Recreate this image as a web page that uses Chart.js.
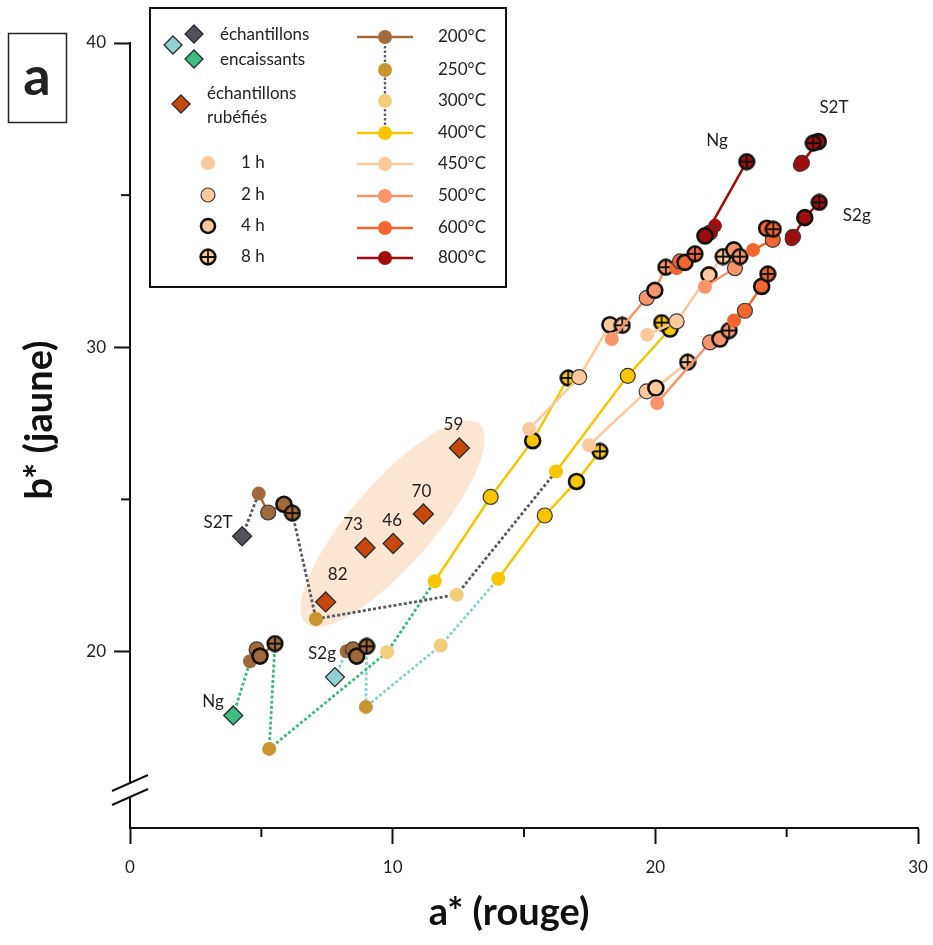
<!DOCTYPE html>
<html lang="fr">
<head>
<meta charset="utf-8">
<script src="https://cdn.jsdelivr.net/npm/chart.js@4.4.1/dist/chart.umd.min.js"></script>
<style>
  html, body { margin: 0; padding: 0; background: #fff; }
  #wrap { position: relative; width: 933px; height: 945px; }
</style>
</head>
<body>
<div id="wrap"><canvas id="chart"></canvas></div>
<script>
// ---- données : paires [a*, b*] ----
const durations = ['1 h', '2 h', '4 h', '8 h'];
const temps = ['200°C', '250°C', '300°C', '400°C', '450°C', '500°C', '600°C', '800°C'];

const sampleNames = ['S2T', 'Ng', 'S2g'];
const sampleA = [4.27, 3.93, 7.80];
const sampleB = [23.79, 17.90, 19.16];

const rubNames = ['82', '73', '46', '70', '59'];
const rubA = [7.45, 8.95, 10.02, 11.17, 12.54];
const rubB = [21.63, 23.41, 23.55, 24.52, 26.69];

// S2T
const s2t200 = [[4.90, 25.19], [5.26, 24.57], [5.86, 24.84], [6.18, 24.55]];
const s2t250 = [[7.08, 21.07]];
const s2t300 = [[12.44, 21.87]];
const s2t400 = [[16.22, 25.92], [18.95, 29.06], [20.56, 30.60], [20.24, 30.81]];
const s2t450 = [[19.69, 30.41], [20.81, 30.85], [22.04, 32.38], [22.58, 32.98]];
const s2t500 = [[21.89, 31.99], [23.03, 32.60], [22.99, 33.20], [23.22, 32.98]];
const s2t600 = [[23.72, 33.20], [24.47, 33.53], [24.24, 33.91], [24.49, 33.88]];
const s2t800 = [[25.50, 35.99], [25.58, 36.06], [26.20, 36.76], [26.01, 36.71]];

// Ng
const ng200 = [[4.57, 19.68], [4.82, 20.07], [4.95, 19.85], [5.52, 20.26]];
const ng250 = [[5.30, 16.80]];
const ng300 = [[9.79, 19.98]];
const ng400 = [[11.60, 22.31], [13.73, 25.08], [15.33, 26.93], [16.68, 28.99]];
const ng450 = [[15.20, 27.31], [17.10, 29.02], [18.27, 30.74], [18.74, 30.72]];
const ng500 = [[18.34, 30.27], [19.67, 31.62], [19.98, 31.87], [20.40, 32.63]];
const ng600 = [[20.81, 32.60], [20.94, 32.82], [21.13, 32.79], [21.51, 33.07]];
const ng800 = [[22.27, 33.99], [22.08, 33.77], [21.89, 33.66], [23.48, 36.10]];

// S2g
const s2g200 = [[8.25, 20.01], [8.49, 20.07], [8.63, 19.85], [9.01, 20.17]];
const s2g250 = [[8.98, 18.18]];
const s2g300 = [[11.83, 20.20]];
const s2g400 = [[14.02, 22.39], [15.79, 24.47], [17.00, 25.59], [17.89, 26.58]];
const s2g450 = [[17.48, 26.78], [19.67, 28.55], [20.02, 28.66], [21.23, 29.51]];
const s2g500 = [[20.07, 28.17], [22.08, 30.16], [22.46, 30.27], [22.81, 30.55]];
const s2g600 = [[23.00, 30.88], [23.41, 31.20], [24.05, 32.00], [24.28, 32.41]];
const s2g800 = [[25.19, 33.55], [25.24, 33.63], [25.69, 34.26], [26.24, 34.76]];

// graduations
const xMajorTicks = [0, 10, 20, 30];
const xMinorTicks = [5, 15, 25];
const yMajorTicks = [20, 30, 40];
const yMinorTicks = [25, 35];

// étiquettes posées sur le graphique (coordonnées a*, b*)
const annoText = ['S2T', 'Ng', 'S2g', 'Ng', 'S2T', 'S2g'];
const annoA = [3.35, 3.16, 7.31, 22.35, 26.80, 27.67];
const annoB = [24.24, 18.36, 19.93, 36.78, 37.87, 34.32];

// ---- styles ----
const tempColors = ['#a16a3b', '#c9952f', '#f2cd7c', '#f7c600', '#fcc99d', '#f7946a', '#f4662f', '#a10d0d'];
const sampleColors = ['#50535d', '#3dbb80', '#93d0d2'];
const connColors = ['#555a66', '#3dba7c', '#8ed0d0'];
const rubColor = '#c8470b';
const rubOffsets = [[12, -27], [-12, -23], [-1, -23], [-2, -22], [-6, -23]];
const FONT = 'Lato, "Open Sans", sans-serif';

const sampleSeries = [
  [s2t200, s2t250, s2t300, s2t400, s2t450, s2t500, s2t600, s2t800],
  [ng200, ng250, ng300, ng400, ng450, ng500, ng600, ng800],
  [s2g200, s2g250, s2g300, s2g400, s2g450, s2g500, s2g600, s2g800]
];

const plusCache = {};
function plusImage(color, size) {
  const key = color + size;
  if (plusCache[key]) return plusCache[key];
  const c = document.createElement('canvas');
  c.width = size; c.height = size;
  const g = c.getContext('2d');
  const m = size / 2, r = size / 2 - 1.6;
  g.beginPath(); g.arc(m, m, r, 0, Math.PI * 2);
  g.fillStyle = color; g.fill();
  g.lineWidth = 2.5; g.strokeStyle = '#111'; g.stroke();
  g.beginPath();
  g.moveTo(m, m - r); g.lineTo(m, m + r);
  g.moveTo(m - r, m); g.lineTo(m + r, m);
  g.lineWidth = 1.8; g.stroke();
  plusCache[key] = c;
  return c;
}

const durRadius = [7, 7.5, 7.5, 9];
const durBorderW = [0, 1.2, 2.6, 0];
const durBorderC = ['rgba(0,0,0,0)', '#3a3a3a', '#111', 'rgba(0,0,0,0)'];

const toXY = pts => pts.map(p => ({ x: p[0], y: p[1] }));

const datasets = [];

// repères des échantillons et rubéfiés (au-dessus)
datasets.push({
  data: sampleA.map((a, i) => ({ x: a, y: sampleB[i] })),
  pointStyle: 'rectRot', pointRadius: 9.5,
  pointBackgroundColor: sampleColors, pointBorderColor: '#2a2a2a', pointBorderWidth: 1.3,
  showLine: false, order: 1
});
datasets.push({
  data: rubA.map((a, i) => ({ x: a, y: rubB[i] })),
  pointStyle: 'rectRot', pointRadius: 10,
  pointBackgroundColor: rubColor, pointBorderColor: '#2a2a2a', pointBorderWidth: 1.3,
  showLine: false, order: 1
});

sampleSeries.forEach((series, s) => {
  // températures
  series.forEach((pts, k) => {
    const color = tempColors[k];
    const many = pts.length > 1;
    datasets.push({
      data: toXY(pts),
      showLine: many,
      borderColor: color, borderWidth: 2.5,
      pointStyle: pts.map((p, i) => (many && i === 3) ? plusImage(color, 18) : 'circle'),
      pointRadius: pts.map((p, i) => many ? durRadius[i] : 7),
      pointBackgroundColor: color,
      pointBorderColor: pts.map((p, i) => many ? durBorderC[i] : durBorderC[0]),
      pointBorderWidth: pts.map((p, i) => many ? durBorderW[i] : 0),
      order: 5 + (8 - k) * 0.1
    });
  });
  // liaisons pointillées
  const t = series;
  const conn = [
    [[sampleA[s], sampleB[s]], t[0][0]],
    [t[0][3], t[1][0], t[2][0], t[3][0]]
  ];
  conn.forEach(c => {
    datasets.push({
      data: toXY(c), showLine: true,
      borderColor: connColors[s], borderWidth: 2.8, borderDash: [3, 2.2],
      pointRadius: 0, order: 10
    });
  });
});

// ---- plugins ----
const decor = {
  id: 'decor',
  beforeDatasetsDraw(chart) {
    const { ctx, scales: { x, y } } = chart;
    // ellipse des échantillons rubéfiés
    ctx.save();
    ctx.beginPath();
    ctx.ellipse(x.getPixelForValue(10.0), y.getPixelForValue(24.2), 132, 41, -49 * Math.PI / 180, 0, Math.PI * 2);
    ctx.fillStyle = '#fbe5d3';
    ctx.fill();
    ctx.restore();
  },
  afterDatasetsDraw(chart) {
    const { ctx, scales: { x, y } } = chart;
    ctx.save();
    ctx.fillStyle = '#222';
    ctx.font = '17px ' + FONT;
    ctx.textAlign = 'center';
    ctx.textBaseline = 'middle';
    annoText.forEach((txt, i) => {
      ctx.fillText(txt, x.getPixelForValue(annoA[i]), y.getPixelForValue(annoB[i]));
    });
    rubNames.forEach((txt, i) => {
      ctx.fillText(txt, x.getPixelForValue(rubA[i]) + rubOffsets[i][0], y.getPixelForValue(rubB[i]) + rubOffsets[i][1]);
    });
    ctx.restore();
  },
  afterDraw(chart) {
    const { ctx, scales: { x, y } } = chart;
    const x0 = x.left, yb = y.bottom;
    ctx.save();
    // graduations secondaires
    ctx.strokeStyle = '#111';
    ctx.lineWidth = 2;
    xMinorTicks.forEach(v => {
      const px = x.getPixelForValue(v);
      ctx.beginPath(); ctx.moveTo(px, yb); ctx.lineTo(px, yb + 9); ctx.stroke();
    });
    yMinorTicks.forEach(v => {
      const py = y.getPixelForValue(v);
      ctx.beginPath(); ctx.moveTo(x0 - 9, py); ctx.lineTo(x0, py); ctx.stroke();
    });
    // coupure de l'axe
    const cy = y.getPixelForValue(15.45);
    ctx.fillStyle = '#fff';
    ctx.fillRect(x0 - 3, cy - 8, 6, 16);
    ctx.lineWidth = 2;
    [-7, 7].forEach(d => {
      ctx.beginPath();
      ctx.moveTo(x0 - 18, cy + d + 8);
      ctx.lineTo(x0 + 18, cy + d - 8);
      ctx.stroke();
    });

    // titres des axes
    ctx.fillStyle = '#111';
    ctx.font = 'bold 38px ' + FONT;
    ctx.textAlign = 'center';
    ctx.textBaseline = 'middle';
    ctx.fillText('a* (rouge)', 509, 913);
    ctx.save();
    ctx.translate(40, 420);
    ctx.rotate(-Math.PI / 2);
    ctx.fillText('b* (jaune)', 0, 0);
    ctx.restore();

    // cadre "a"
    ctx.lineWidth = 1.5;
    ctx.strokeStyle = '#222';
    ctx.strokeRect(8.5, 33.5, 58, 89);
    ctx.font = 'bold 54px ' + FONT;
    ctx.fillStyle = '#222';
    ctx.fillText('a', 37, 78);

    drawLegend(ctx);
    ctx.restore();
  }
};

function diamond(ctx, cx, cy, r, fill) {
  ctx.beginPath();
  ctx.moveTo(cx, cy - r); ctx.lineTo(cx + r, cy); ctx.lineTo(cx, cy + r); ctx.lineTo(cx - r, cy);
  ctx.closePath();
  ctx.fillStyle = fill; ctx.fill();
  ctx.lineWidth = 1.3; ctx.strokeStyle = '#2a2a2a'; ctx.stroke();
}

function dot(ctx, cx, cy, r, fill, bw, bc) {
  ctx.beginPath();
  ctx.arc(cx, cy, r, 0, Math.PI * 2);
  ctx.fillStyle = fill; ctx.fill();
  if (bw > 0) { ctx.lineWidth = bw; ctx.strokeStyle = bc; ctx.stroke(); }
}

function drawLegend(ctx) {
  ctx.save();
  ctx.fillStyle = '#fff';
  ctx.fillRect(150, 8, 356, 279);
  ctx.lineWidth = 2;
  ctx.strokeStyle = '#111';
  ctx.strokeRect(150, 8, 356, 279);

  ctx.font = '17px ' + FONT;
  ctx.textBaseline = 'middle';
  ctx.textAlign = 'left';

  diamond(ctx, 173, 45, 9, sampleColors[2]);
  diamond(ctx, 194, 34, 9, sampleColors[0]);
  diamond(ctx, 194, 59, 9, sampleColors[1]);
  ctx.fillStyle = '#222';
  ctx.fillText('échantillons', 220, 35);
  ctx.fillText('encaissants', 220, 60);

  diamond(ctx, 181, 104, 9, rubColor);
  ctx.fillStyle = '#222';
  ctx.fillText('échantillons', 207, 94);
  ctx.fillText('rubéfiés', 207, 118);

  const dy = [163, 195, 226, 257];
  durations.forEach((d, i) => {
    if (i === 3) {
      ctx.drawImage(plusImage(tempColors[4], 18), 199, dy[i] - 9);
    } else {
      dot(ctx, 208, dy[i], 7, tempColors[4], durBorderW[i], durBorderC[i]);
    }
    ctx.fillStyle = '#222';
    ctx.fillText(d, 241, dy[i]);
  });

  const ty = [37, 70, 101, 133, 164, 196, 228, 258];
  ctx.save();
  ctx.setLineDash([2.5, 2]);
  ctx.strokeStyle = '#5a5f6b';
  ctx.lineWidth = 2.4;
  ctx.beginPath(); ctx.moveTo(385, ty[0]); ctx.lineTo(385, ty[3]); ctx.stroke();
  ctx.restore();
  temps.forEach((t, k) => {
    if (k !== 1 && k !== 2) {
      ctx.strokeStyle = tempColors[k];
      ctx.lineWidth = 2.6;
      ctx.beginPath(); ctx.moveTo(357, ty[k]); ctx.lineTo(413, ty[k]); ctx.stroke();
    }
    dot(ctx, 385, ty[k], 7, tempColors[k], 0);
    ctx.fillStyle = '#222';
    ctx.fillText(t, 438, ty[k]);
  });
  ctx.restore();
}

new Chart(document.getElementById('chart'), {
  type: 'scatter',
  data: { datasets },
  options: {
    responsive: true,
    maintainAspectRatio: false,
    animation: false,
    layout: { padding: { top: 43, right: 15, left: 0, bottom: 0 } },
    elements: { line: { tension: 0 } },
    plugins: { legend: { display: false }, tooltip: { enabled: false } },
    scales: {
      x: {
        type: 'linear', min: 0, max: 30,
        afterBuildTicks: s => { s.ticks = xMajorTicks.map(v => ({ value: v })); },
        afterFit: s => { s.height = 117; s.paddingLeft = 0; s.paddingRight = 0; },
        grid: { display: true, drawOnChartArea: false, drawTicks: true, tickLength: 16, tickColor: '#111', tickWidth: 2 },
        border: { display: true, color: '#111', width: 2 },
        ticks: { font: { family: FONT, size: 17 }, color: '#222', padding: 13, maxRotation: 0, autoSkip: false }
      },
      y: {
        type: 'linear', min: 14.2, max: 40,
        afterBuildTicks: s => { s.ticks = yMajorTicks.map(v => ({ value: v })); },
        afterFit: s => { s.width = 130; s.paddingTop = 0; s.paddingBottom = 0; },
        grid: { display: true, drawOnChartArea: false, drawTicks: true, tickLength: 16, tickColor: '#111', tickWidth: 2 },
        border: { display: true, color: '#111', width: 2 },
        ticks: { font: { family: FONT, size: 17 }, color: '#222', padding: 8, autoSkip: false }
      }
    }
  },
  plugins: [decor]
});
</script>
</body>
</html>
